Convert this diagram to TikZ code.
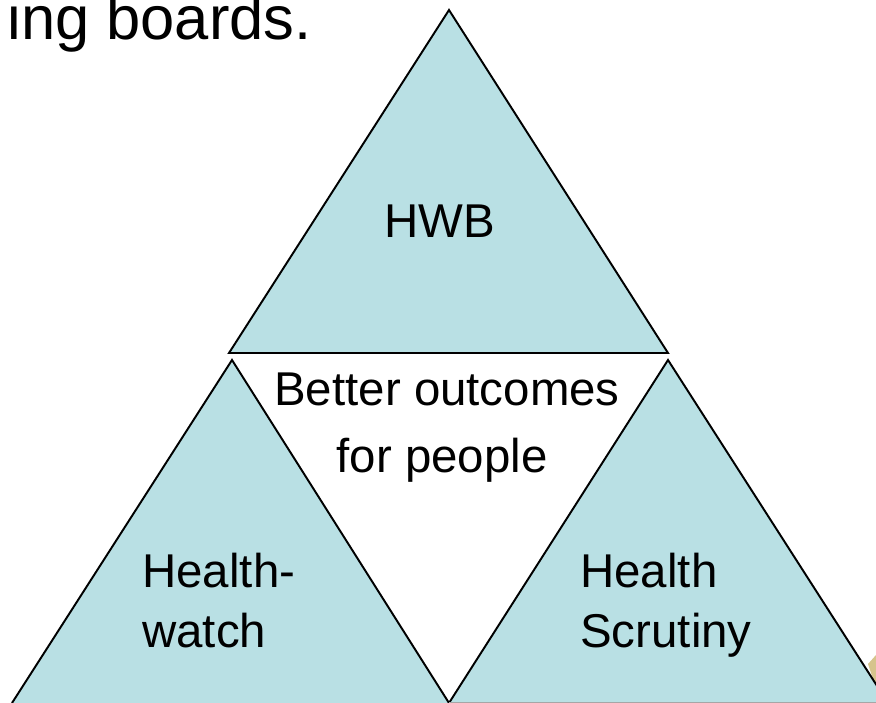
\documentclass[tikz,border=0pt]{standalone}
\usepackage{fontspec}
\setmainfont{Liberation Sans}
\usepackage{tikz}
\usepackage{xcolor}
\definecolor{tealfill}{RGB}{185,224,228}
\definecolor{slidetan}{RGB}{214,196,140}

\begin{document}
\begin{tikzpicture}[x=0.02cm,y=-0.02cm,
  tri/.style={fill=tealfill},
  side/.style={line width=1.1pt,line join=miter},
  lbl/.style={inner sep=0pt,font=\fontsize{27}{34}\selectfont}]
\useasboundingbox (0,0) rectangle (876,703);
\clip (0,0) rectangle (876,703);
% corners of the three triangles
\coordinate (top) at (449,10);
\coordinate (topl) at (229,353);
\coordinate (topr) at (668,353);
\coordinate (lft) at (232,360);
\coordinate (lftl) at (12,703);
\coordinate (mid) at (449,703);
\coordinate (rgt) at (668,360);
\coordinate (rgtr) at (888,703);
% bit of the slide behind
\fill [slidetan] (868,664) -- (876,655) -- (876,688) -- cycle;
\filldraw [tri,side] (top) -- (topl) -- (topr) -- cycle;
\fill [tri] (lft) -- (lftl) -- (mid) -- cycle;
\draw [side] (lftl) -- (lft) -- (mid);
\fill [tri] (rgt) -- (mid) -- (rgtr) -- cycle;
\draw [side] (mid) -- (rgt) -- (rgtr);
\draw [gray!70, line width=0.6pt] (mid) -- (rgtr);
\node [lbl,anchor=base east,font=\fontsize{35}{42}\selectfont] (title) at (312,39) {ing boards.};
\node [lbl,anchor=base] (hwb) at (440,237) {HWB};
\node [lbl,anchor=base] (better) at (447,405) {Better outcomes};
\node [lbl,anchor=base] (people) at (442,472) {for people};
\node [lbl,anchor=base west,align=left] (hw) at (142,647) {Health-\\watch};
\node [lbl,anchor=base west,align=left] (hs) at (580,647) {Health\\Scrutiny};
\end{tikzpicture}
\end{document}
